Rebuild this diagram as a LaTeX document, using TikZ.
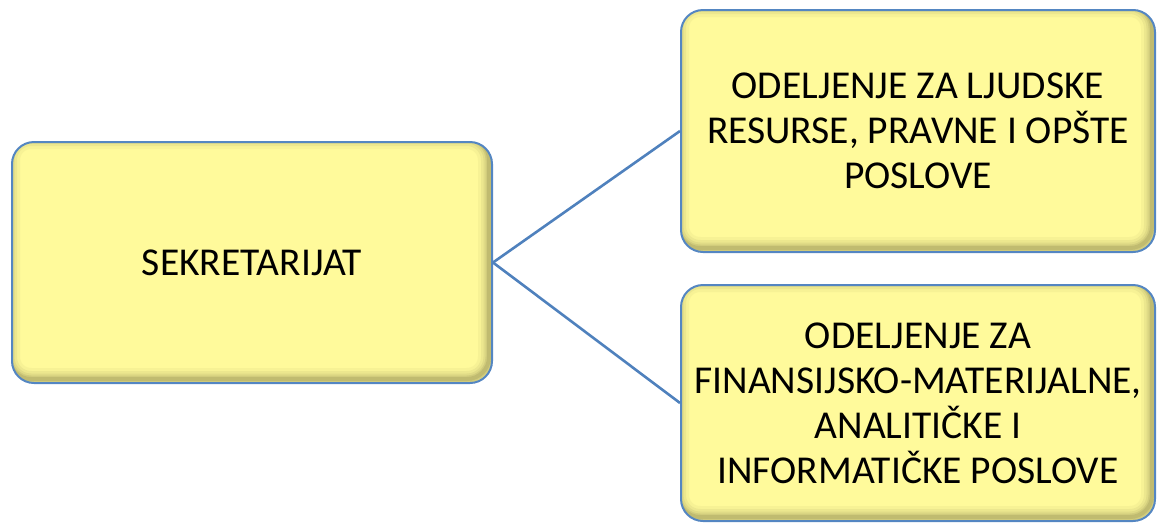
\documentclass[tikz,border=0pt]{standalone}
\usepackage{fontspec}
\setmainfont{Carlito}
\definecolor{boxfill}{RGB}{255,250,155}
\definecolor{boxedge}{RGB}{84,134,194}
\definecolor{shadowc}{RGB}{105,100,55}
\definecolor{linkc}{RGB}{79,129,189}
\begin{document}
\begin{tikzpicture}[x=1pt,y=-1pt,
  orgbox/.style={draw=boxedge, line width=2pt, fill=boxfill, rounded corners=22pt,
    align=center, inner sep=0pt, font=\fontsize{39.5}{45}\selectfont,
    path picture={
      \foreach \w/\o in {22/0.05,16/0.07,11/0.09,7/0.12,4/0.16}{
        \draw[shadowc, line width=\w pt, opacity=\o, rounded corners=22pt]
          ([xshift=-3pt,yshift=4pt]path picture bounding box.south west) rectangle
          ([xshift=-3pt,yshift=4pt]path picture bounding box.north east);
      }
    }},
  link/.style={draw=linkc, line width=2.6pt}]
\useasboundingbox (0,0) rectangle (1157,523);
\node[orgbox, minimum width=480pt, minimum height=241pt] (sek) at (252,262.5) {SEKRETARIJAT};
\node[orgbox, minimum width=474pt, minimum height=242pt] (ljud) at (918,131) {ODELJENJE ZA LJUDSKE\\RESURSE, PRAVNE I OPŠTE\\POSLOVE};
\node[orgbox, minimum width=474pt, minimum height=236pt] (fin) at (918,403) {ODELJENJE ZA\\FINANSIJSKO-MATERIJALNE,\\ANALITIČKE I\\INFORMATIČKE POSLOVE};
\draw[link] (sek.east) -- (ljud.west);
\draw[link] (sek.east) -- (fin.west);
\end{tikzpicture}
\end{document}
